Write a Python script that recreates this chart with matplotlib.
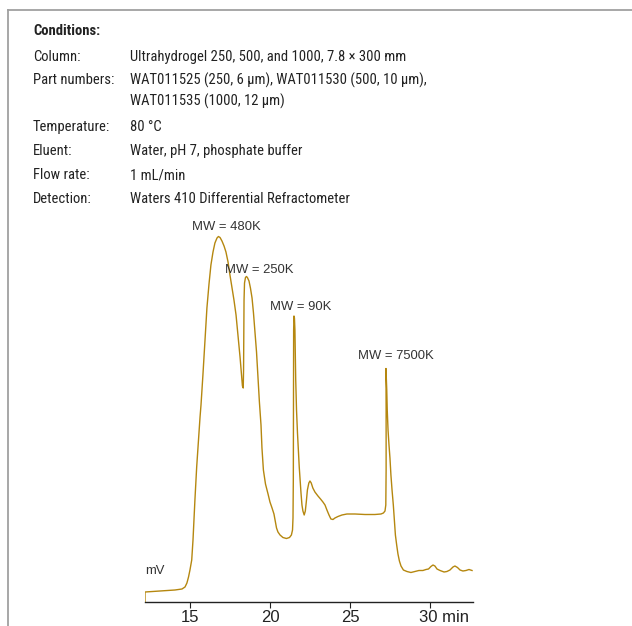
import matplotlib.pyplot as plt
import matplotlib.lines as mlines
import matplotlib.transforms as mtransforms

# chromatogram trace (time in min, signal in arbitrary mV units)
time = [12.19, 12.19, 13.13, 14.06, 14.5, 14.69, 14.81, 14.91, 15.0, 15.11, 15.19, 15.31,
        15.42, 15.53, 15.63, 15.69, 15.81, 15.94, 16.06, 16.19, 16.31, 16.44, 16.56,
        16.69, 16.78, 16.88, 17.0, 17.13, 17.25, 17.38, 17.5, 17.63, 17.75, 17.88,
        18.0, 18.13, 18.22, 18.28, 18.33, 18.35, 18.38, 18.41, 18.47, 18.53, 18.59,
        18.69, 18.78, 18.88, 18.97, 19.06, 19.16, 19.25, 19.34, 19.44, 19.5, 19.59,
        19.72, 19.88, 20.0, 20.13, 20.25, 20.34, 20.41, 20.5, 20.63, 20.81, 21.03,
        21.22, 21.34, 21.41, 21.44, 21.46, 21.47, 21.48, 21.5, 21.53, 21.56, 21.61,
        21.66, 21.72, 21.78, 21.83, 21.89, 21.94, 22.0, 22.06, 22.14, 22.21, 22.27,
        22.34, 22.43, 22.5, 22.58, 22.68, 22.81, 23.0, 23.16, 23.31, 23.44, 23.56,
        23.69, 23.81, 23.94, 24.06, 24.25, 24.5, 24.81, 25.31, 25.94, 26.56, 26.94,
        27.09, 27.19, 27.24, 27.26, 27.26, 27.25, 27.3, 27.33, 27.38, 27.44, 27.5,
        27.56, 27.63, 27.71, 27.78, 27.84, 27.92, 28.0, 28.09, 28.19, 28.34, 28.56,
        28.81, 29.06, 29.31, 29.56, 29.75, 29.91, 30.06, 30.19, 30.31, 30.44, 30.63,
        30.88, 31.06, 31.25, 31.44, 31.56, 31.72, 31.88, 32.06, 32.25, 32.44, 32.63]
signal = [0, 10, 11, 12, 13, 15, 19, 25, 32, 42, 62, 102,
          135, 162, 185, 197, 227, 262, 294, 318, 337, 350, 359,
          364, 365.5, 364.5, 361, 356, 350, 340, 327, 314, 302, 287,
          267, 245, 227, 216, 214, 232, 302, 319, 324.5, 325.5, 324.5,
          321, 314, 304, 289, 270, 250, 225, 200, 177, 154, 132,
          118, 108, 100, 94, 88, 80, 74, 70, 67, 64.5, 63.5,
          64.5, 67, 72, 84, 122, 202, 272, 286, 284, 272, 222,
          192, 169, 150, 135, 120, 109, 97, 91, 87, 91, 100,
          112, 119, 121, 119, 114, 110, 106, 103, 100, 97, 92,
          87, 83, 82.5, 84, 85.5, 87, 88, 88, 87.5, 87.5, 88,
          89, 91, 97, 132, 192, 233.5, 212, 192, 172, 157, 144,
          127, 112, 97, 80, 67, 57, 48, 41, 36, 32, 30.5,
          29.5, 30.5, 31.5, 31.5, 32.5, 33, 35.5, 37, 36, 33, 31.5,
          30, 30.5, 32, 35, 36, 34.5, 32, 31, 31.5, 32.5, 31.5]

ticks = [15, 20, 25, 30]
tick_labels = ['15', '20', '25', '30 min']

peak_labels = ['MW = 480K', 'MW = 250K', 'MW = 90K', 'MW = 7500K']
peak_pos = [(17.25, 375), (19.31, 332), (21.9, 295), (27.84, 246)]

cond_names = ['Column:', 'Part numbers:', '', 'Temperature:', 'Eluent:', 'Flow rate:', 'Detection:']
cond_values = ['Ultrahydrogel 250, 500, and 1000, 7.8 × 300 mm',
               'WAT011525 (250, 6 µm), WAT011530 (500, 10 µm),',
               'WAT011535 (1000, 12 µm)',
               '80 °C',
               'Water, pH 7, phosphate buffer',
               '1 mL/min',
               'Waters 410 Differential Refractometer']
cond_rows_y = [57, 80, 101, 127, 151, 175, 199]   # pixel rows

W, H = 632, 626
fig = plt.figure(figsize=(W / 100, H / 100), dpi=100)

# grey frame, top and left only
fig.add_artist(mlines.Line2D([8 / W, 1], [1 - 10 / H, 1 - 10 / H], color='#a0a0a0', lw=1.3))
fig.add_artist(mlines.Line2D([8 / W, 8 / W], [0, 1 - 10 / H], color='#a0a0a0', lw=1.3))

cond_font = ['Roboto Condensed', 'Roboto', 'DejaVu Sans']
fs = 10.5
fig.text(33 / W, 1 - 31 / H, 'Conditions:', family=cond_font, fontsize=fs,
         fontweight='bold', va='center', color='#222222')
for name, val, py in zip(cond_names, cond_values, cond_rows_y):
    fig.text(33 / W, 1 - py / H, name, family=cond_font, fontsize=fs, va='center', color='#222222')
    fig.text(130 / W, 1 - py / H, val, family=cond_font, fontsize=fs, va='center', color='#222222')

ax = fig.add_axes([145 / W, 1 - 602 / H, 328 / W, 387 / H])
ax.plot(time, signal, color='#b5870f', lw=1.0)
ax.set_xlim(12.19, 32.69)
ax.set_ylim(0, 387)

for s in ['top', 'right', 'left']:
    ax.spines[s].set_visible(False)
ax.spines['bottom'].set_color('#222222')
ax.spines['bottom'].set_linewidth(1.0)
ax.set_yticks([])
ax.set_xticks(ticks)
ax.set_xticklabels(tick_labels, family='Liberation Sans', fontsize=12, color='#222222')
ax.tick_params(axis='x', length=4, width=0.8, pad=1.5, color='#222222')
last = ax.get_xticklabels()[-1]
last.set_horizontalalignment('left')
last.set_transform(last.get_transform() + mtransforms.ScaledTranslation(-11 / 100, 0, fig.dpi_scale_trans))

for lab, (tx, ty) in zip(peak_labels, peak_pos):
    ax.text(tx, ty, lab, ha='center', va='center', family='Liberation Sans',
            fontsize=9.4, color='#333333')

ax.text(12.19, 31, 'mV', ha='left', va='center', family='Liberation Sans',
        fontsize=9.4, color='#333333')

fig.savefig('out.png', dpi=100, facecolor='white')
